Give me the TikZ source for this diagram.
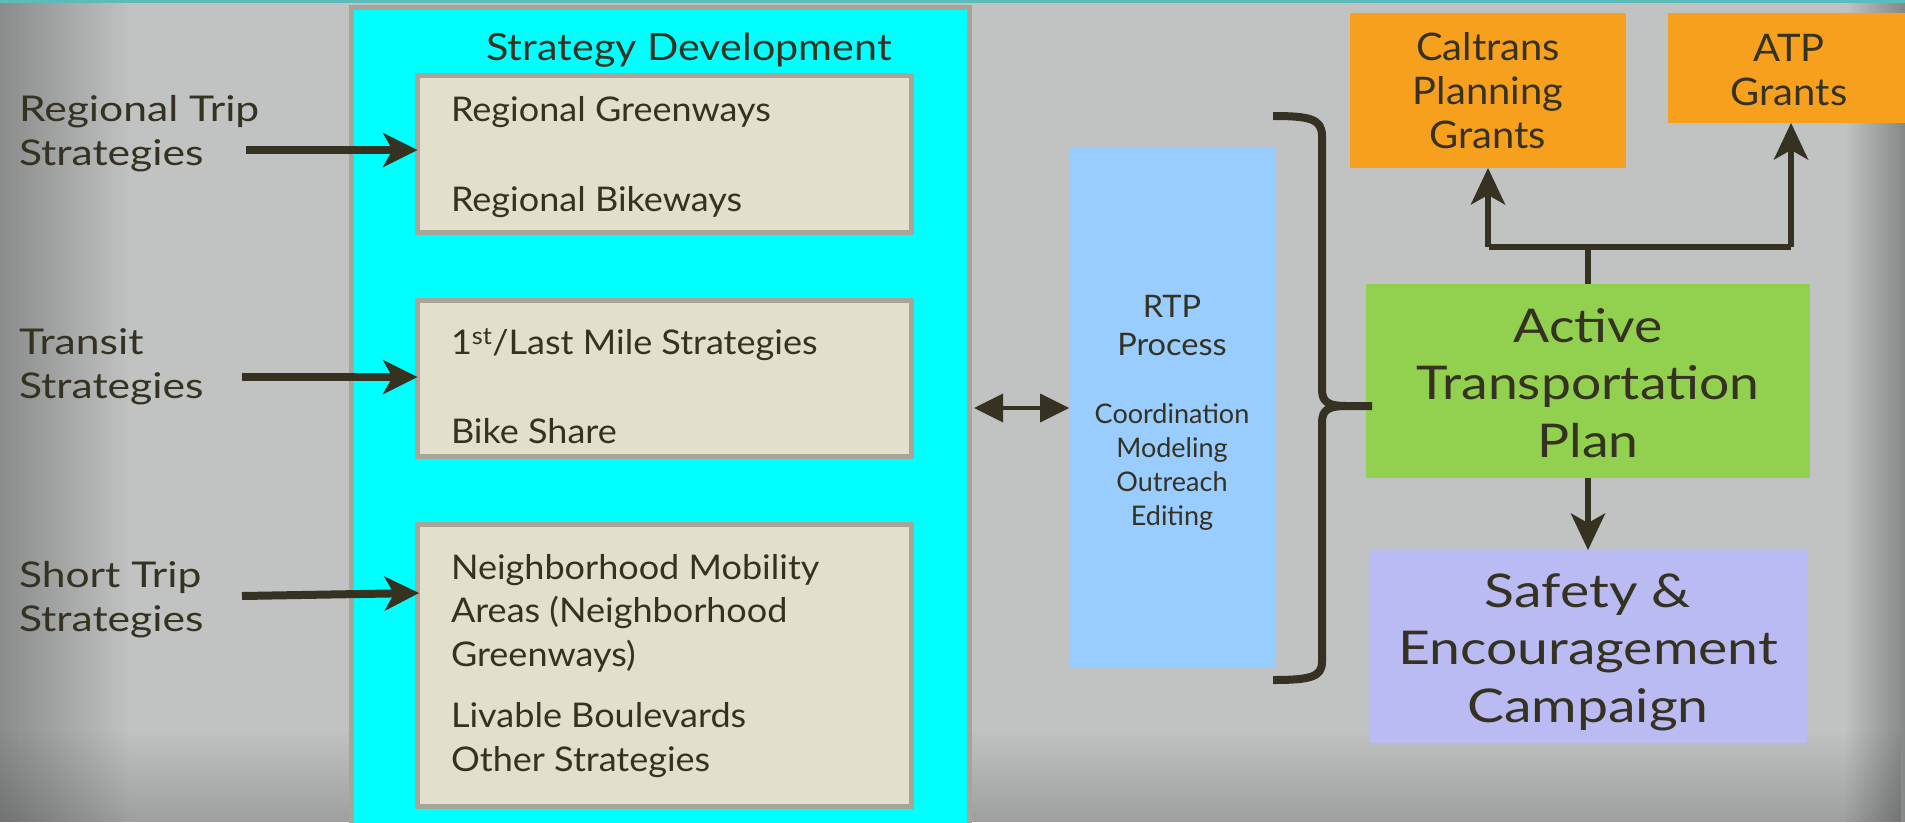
\documentclass[tikz,border=0pt]{standalone}
\usepackage{fontspec}
\setmainfont{Lato}
\newfontfamily\leftfont{Lato}[FakeStretch=1.2]
\newfontfamily\boxfont{Lato}[FakeStretch=1.06]
\newfontfamily\titlefont{Lato}[FakeStretch=1.1]
\newfontfamily\grantfont{Lato}[FakeStretch=1.05]
\newfontfamily\greenfont{Lato}[FakeStretch=1.15]
\newfontfamily\purplefont{Lato}[FakeStretch=1.19]
\usetikzlibrary{arrows.meta,fadings}
\definecolor{bgc}{HTML}{C0C3C1}
\definecolor{tealline}{HTML}{5BBDBB}
\definecolor{cyanc}{HTML}{00FFFF}
\definecolor{boxborder}{HTML}{A8A497}
\definecolor{boxfill}{HTML}{E2DFCC}
\definecolor{ink}{HTML}{353222}
\definecolor{rtpc}{HTML}{99CCFF}
\definecolor{greenc}{HTML}{92D050}
\definecolor{orangec}{HTML}{F7A01D}
\definecolor{purplec}{HTML}{BBBBF4}
\tikzfading[name=vigleft, left color=transparent!72, right color=transparent!100]
\tikzfading[name=vigright, left color=transparent!100, right color=transparent!70]
\tikzfading[name=vigbottom, top color=transparent!100, bottom color=transparent!82]
\tikzset{
  inktext/.style={text=ink, inner sep=0pt, outer sep=0pt},
  lefttxt/.style={inktext, anchor=base west, align=left, font=\leftfont\fontsize{35.5}{43.5}\selectfont},
  boxtxt/.style={inktext, anchor=base west, align=left, font=\boxfont\fontsize{34}{43.5}\selectfont},
  titletxt/.style={inktext, anchor=base, font=\titlefont\fontsize{37.5}{44}\selectfont},
  grantstxt/.style={inktext, anchor=base, align=center, font=\grantfont\fontsize{38}{44}\selectfont},
  rtptxt/.style={inktext, anchor=base, align=center, font=\grantfont\fontsize{31}{38}\selectfont},
  stepstxt/.style={inktext, anchor=base, align=center, font=\fontsize{27}{33.7}\selectfont},
  greentxt/.style={inktext, anchor=base, align=center, font=\greenfont\fontsize{46.5}{57.5}\selectfont},
  purpletxt/.style={inktext, anchor=base, align=center, font=\purplefont\fontsize{46.5}{57.5}\selectfont},
  plainbox/.style={anchor=north west, inner sep=0pt, outer sep=0pt},
  sbox/.style={plainbox, draw=boxborder, fill=boxfill, line width=5pt, minimum width=494pt},
  bigarrow/.style={draw=ink, line width=8pt, -{Stealth[length=35pt, width=35pt, inset=10pt, line width=0pt]}},
  uparrow/.style={draw=ink, line width=6.5pt, -{Stealth[length=37pt, width=35pt, inset=10pt, line width=0pt]}},
  dblarrow/.style={draw=ink, line width=4.5pt, {Triangle[length=29pt, width=29pt, line width=0pt]}-{Triangle[length=29pt, width=29pt, line width=0pt]}},
  joinline/.style={draw=ink, line width=6.5pt},
  bracestyle/.style={draw=ink, line width=8pt, line join=round}
}
\begin{document}
\begin{tikzpicture}[x=1pt, y=-1pt]
\useasboundingbox (0,0) rectangle (1905,822);
\clip (0,0) rectangle (1905,822);
% background with vignette
\fill[bgc] (0,0) rectangle (1905,822);
\fill[black, path fading=vigleft] (0,0) rectangle (130,822);
\fill[black, path fading=vigright] (1845,0) rectangle (1905,822);
\fill[black, path fading=vigbottom] (0,730) rectangle (1905,822);
\fill[tealline] (0,0) rectangle (1905,2.5);

% strategy development panel
\node[plainbox, fill=cyanc, draw=boxborder, line width=5pt, minimum width=618pt, minimum height=830pt] (cyanbox) at (351.5,7.5) {};
\node[titletxt] (title) at (689,60) {Strategy Development};

\node[sbox, minimum height=157pt] (b1) at (417.5,75.5) {};
\node[sbox, minimum height=156pt] (b2) at (417.5,300.5) {};
\node[sbox, minimum height=282pt] (b3) at (417.5,524.5) {};

% (multi-line nodes: base anchor = baseline of last line)
\node[boxtxt] (t11) at (451,121) {Regional Greenways};
\node[boxtxt] (t12) at (451,211) {Regional Bikeways};
\node[boxtxt] (t21) at (451,354) {1\textsuperscript{st}/Last Mile Strategies};
\node[boxtxt] (t22) at (451,443) {Bike Share};
\node[boxtxt] (t31) at (451,666) {Neighborhood Mobility\\Areas (Neighborhood\\Greenways)};
\node[boxtxt] (t32) at (451,771) {Livable Boulevards\\Other Strategies};

% left labels
\node[lefttxt] (l1) at (19,165) {Regional Trip\\Strategies};
\node[lefttxt] (l2) at (19,398) {Transit\\Strategies};
\node[lefttxt] (l3) at (19,631) {Short Trip\\Strategies};

\coordinate (a1) at (246,150);
\coordinate (a2) at (242,377);
\coordinate (a3) at (242,596);
\coordinate (e3) at (419,593);
\draw[bigarrow] (a1) -- (a1 -| b1.west);
\draw[bigarrow] (a2) -- (a2 -| b2.west);
\draw[bigarrow] (a3) -- (e3);

% RTP process
\node[plainbox, fill=rtpc, minimum width=206pt, minimum height=521pt] (rtp) at (1069,147) {};
\node[rtptxt] (rtpt) at (1172,355) {RTP\\Process};
\node[stepstxt] (steps) at (1172,525) {Coordination\\Modeling\\Outreach\\Editing};
\coordinate (d1) at (974,408);
\draw[dblarrow] (d1) -- (d1 -| rtp.west);

% right column
\node[plainbox, fill=greenc, minimum width=444pt, minimum height=194pt] (atpplan) at (1366,284) {};
\node[greentxt] (atpt) at (1588,457) {Active\\Transportation\\Plan};
\node[plainbox, fill=purplec, minimum width=438pt, minimum height=193pt] (safety) at (1369,550) {};
\node[purpletxt] (safetyt) at (1588,722) {Safety \&\\Encouragement\\Campaign};
\node[plainbox, fill=orangec, minimum width=276pt, minimum height=155pt] (cal) at (1350,13) {};
\node[grantstxt] (calt) at (1488,148) {Caltrans\\Planning\\Grants};
\node[plainbox, fill=orangec, minimum width=242pt, minimum height=110pt] (atpg) at (1668,13) {};
\node[grantstxt] (atpgt) at (1789,105) {ATP\\Grants};

% brace
\coordinate (btop) at (1273,116);
\coordinate (bbot) at (1273,680);
\coordinate (btip) at (1372,406);
\draw[bracestyle] (btop) .. controls (1310,116) and (1322,119) .. (1322,136)
  -- (1322,390) .. controls (1322,403) and (1330,406) .. (1346,406) -- (btip);
\draw[bracestyle] (1346,406) .. controls (1330,406) and (1322,409) .. (1322,422)
  -- (1322,662) .. controls (1322,677) and (1310,680) .. (bbot);

% grants connectors
\coordinate (j) at (1588,247);
\draw[joinline] (atpplan.north) -- (j);
\draw[joinline, line join=miter] (1489,247) -- (1791,247);
\draw[uparrow] (cal.south |- j) -- (cal.south);
\draw[uparrow] (1791,247) -- (1791,123);
\draw[uparrow] (atpplan.south) -- (safety.north);
\end{tikzpicture}
\end{document}
